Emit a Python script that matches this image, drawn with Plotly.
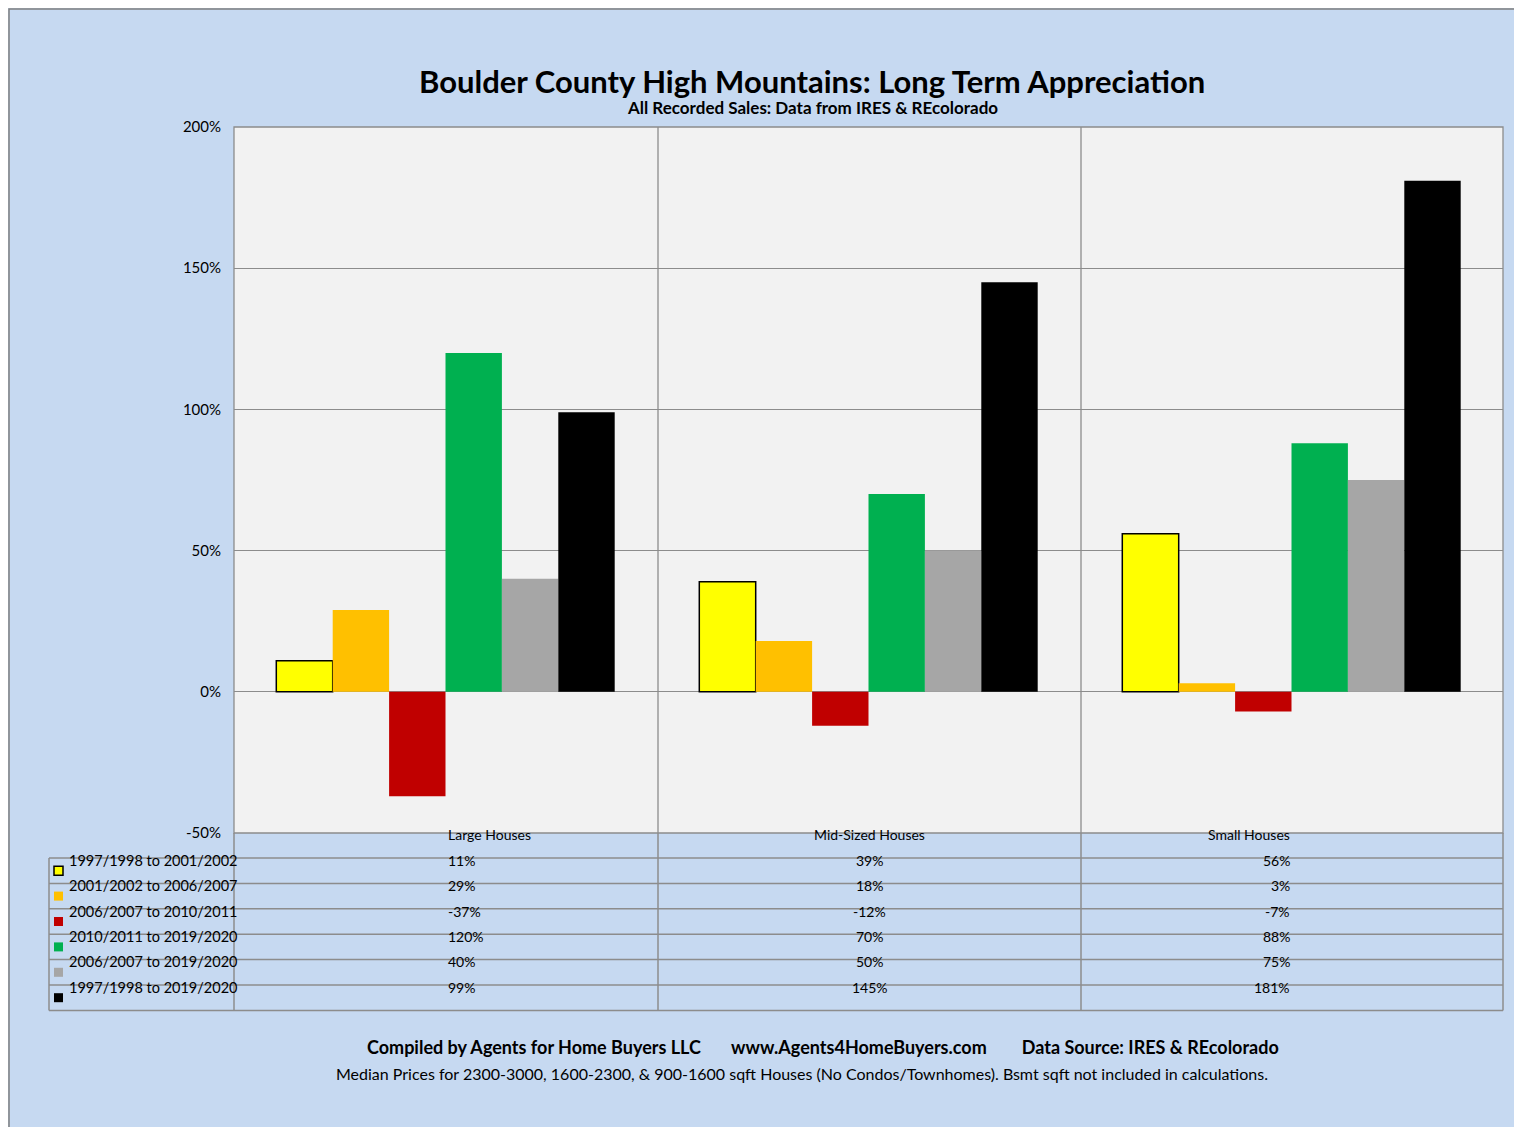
import plotly.graph_objects as go

categories = ["Large Houses", "Mid-Sized Houses", "Small Houses"]
series_names = [
    "1997/1998 to 2001/2002",
    "2001/2002 to 2006/2007",
    "2006/2007 to 2010/2011",
    "2010/2011 to 2019/2020",
    "2006/2007 to 2019/2020",
    "1997/1998 to 2019/2020",
]
series_values = [
    [11, 39, 56],
    [29, 18, 3],
    [-37, -12, -7],
    [120, 70, 88],
    [40, 50, 75],
    [99, 145, 181],
]
colors = ["#FFFF00", "#FFC000", "#C00000", "#00B050", "#A6A6A6", "#000000"]
tick_vals = [-50, 0, 50, 100, 150, 200]

W, H = 1522, 1127
L, R, T, B = 226, 1495, 119, 825
FONT = "Lato, Open Sans, sans-serif"
BG = "#C6D9F1"
GRID = "#8C8C8C"


def px_x(x):
    return (x - L) / (R - L)


def px_y(y):
    return (B - y) / (B - T)


fig = go.Figure()
for name, vals, c in zip(series_names, series_values, colors):
    fig.add_trace(go.Bar(
        x=categories, y=vals, name=name,
        marker=dict(color=c, line=dict(color="#000000" if c == "#FFFF00" else c,
                                       width=1.5 if c == "#FFFF00" else 0)),
    ))

shapes = []
annotations = []
# vertical separators between categories
for x in [650, 1073]:
    shapes.append(dict(type="line", xref="paper", yref="paper", x0=px_x(x), x1=px_x(x),
                       y0=0, y1=1, line=dict(color=GRID, width=1.3)))
shapes.append(dict(type="rect", xref="paper", yref="paper", x0=0, x1=1, y0=0, y1=1,
                   line=dict(color=GRID, width=1.3)))

# data table
row_h = 25.4
row_top = 850
col_edges = [L, 650, 1073, R]
for i in range(7):
    y = row_top + i * row_h
    shapes.append(dict(type="line", xref="paper", yref="paper", x0=px_x(41), x1=1,
                       y0=px_y(y), y1=px_y(y), line=dict(color=GRID, width=1.5)))
for x in col_edges:
    shapes.append(dict(type="line", xref="paper", yref="paper", x0=px_x(x), x1=px_x(x),
                       y0=0, y1=px_y(row_top + 6 * row_h), line=dict(color=GRID, width=1.5)))
shapes.append(dict(type="line", xref="paper", yref="paper", x0=px_x(41), x1=px_x(41),
                   y0=px_y(row_top), y1=px_y(row_top + 6 * row_h), line=dict(color=GRID, width=1.5)))

for j, cat in enumerate(categories):
    xc = (col_edges[j] + col_edges[j + 1]) / 2
    annotations.append(dict(text=cat, xref="paper", yref="paper", x=px_x(xc), y=px_y(837.5),
                            showarrow=False, font=dict(size=14, color="#000", family=FONT)))
for i, (name, vals, c) in enumerate(zip(series_names, series_values, colors)):
    yc = row_top + (i + 0.5) * row_h
    shapes.append(dict(type="rect", xref="paper", yref="paper",
                       x0=px_x(46), x1=px_x(55), y0=px_y(yc + 4.5), y1=px_y(yc - 4.5),
                       fillcolor=c, line=dict(color="#000" if i == 0 else c, width=1.5 if i == 0 else 0)))
    annotations.append(dict(text=name, xref="paper", yref="paper", x=px_x(59), y=px_y(yc),
                            xanchor="left", showarrow=False,
                            font=dict(size=14.5, color="#000", family=FONT)))
    for j, v in enumerate(vals):
        xc = (col_edges[j] + col_edges[j + 1]) / 2
        annotations.append(dict(text=f"{v}%", xref="paper", yref="paper", x=px_x(xc), y=px_y(yc),
                                showarrow=False, font=dict(size=14, color="#000", family=FONT)))

# titles and footer
annotations += [
    dict(text="<b>Boulder County High Mountains: Long Term Appreciation</b>", xref="paper", yref="paper",
         x=px_x(804), y=px_y(52), showarrow=False, font=dict(size=31, color="#000", family=FONT)),
    dict(text="<b>All Recorded Sales: Data from IRES & REcolorado</b>", xref="paper", yref="paper",
         x=px_x(804), y=px_y(87), showarrow=False, font=dict(size=17, color="#000", family=FONT)),
    dict(text="<b>Compiled by Agents for Home Buyers LLC       www.Agents4HomeBuyers.com        Data Source: IRES & REcolorado</b>",
         xref="paper", yref="paper", x=px_x(815), y=px_y(1052), showarrow=False,
         font=dict(size=18, color="#000", family=FONT)),
    dict(text="Median Prices for 2300-3000, 1600-2300, & 900-1600 sqft Houses (No Condos/Townhomes). Bsmt sqft not included in calculations.",
         xref="paper", yref="paper", x=px_x(794), y=px_y(1077), showarrow=False,
         font=dict(size=16, color="#000", family=FONT)),
]
shapes.append(dict(type="rect", xref="paper", yref="paper", x0=px_x(1), x1=px_x(W - 1),
                   y0=px_y(H - 1), y1=px_y(1), line=dict(color="#7F7F7F", width=1.5)))

fig.update_layout(
    width=W, height=H,
    margin=dict(l=L, r=W - R, t=T, b=H - B, pad=0),
    paper_bgcolor=BG, plot_bgcolor="#F2F2F2",
    barmode="group", bargap=0.2, bargroupgap=0,
    showlegend=False,
    shapes=shapes, annotations=annotations,
    font=dict(family=FONT, color="#000"),
)
fig.update_xaxes(showticklabels=False, showgrid=False, zeroline=False)
fig.update_yaxes(range=[-50, 200], tickvals=tick_vals, ticktext=[f"{v}%" for v in tick_vals],
                 showgrid=True, gridcolor=GRID, gridwidth=1.3, zeroline=True, zerolinecolor=GRID,
                 zerolinewidth=1.3, tickfont=dict(size=15, family=FONT), ticks="", ticklabelstandoff=12)
fig.write_html("out.html")
